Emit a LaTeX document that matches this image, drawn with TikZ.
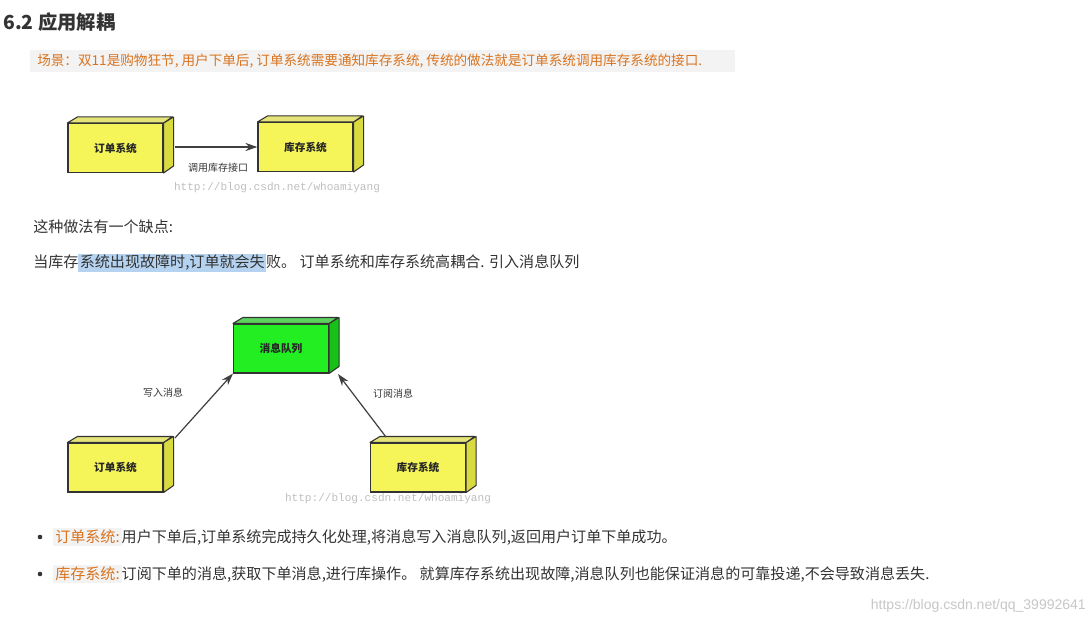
\documentclass[tikz,border=0pt]{standalone}
\usepackage{fontspec}
\setmainfont{Noto Sans CJK SC}
\newfontfamily\wmfont{Liberation Mono}
\newfontfamily\sansf{Liberation Sans}
\definecolor{boxy}{HTML}{F5F55A}
\definecolor{boxyd}{HTML}{D9D940}
\definecolor{boxg}{HTML}{22EE22}
\definecolor{boxgd}{HTML}{18C018}
\definecolor{orng}{HTML}{D9731F}
\definecolor{hlb}{HTML}{B5D3F0}
\definecolor{codebg}{HTML}{F3F3F3}
\definecolor{txt}{HTML}{333333}
\tikzset{
 x=0.75pt,y=-0.75pt,
 cube/.style={draw=black!80,line width=0.8pt,minimum width=95*0.75pt,minimum height=49*0.75pt,inner sep=0pt,font=\fontsize{8}{9}\selectfont\bfseries,text=black!85},
 face/.style={draw=black!80,line width=0.8pt,line join=round},
 conn/.style={draw=black!75,line width=0.9pt,-{Stealth[length=9pt,width=6pt]}},
 lbl/.style={font=\fontsize{7.5}{9}\selectfont,text=black!80},
 wm/.style={font=\wmfont\fontsize{8.3}{9}\selectfont,text=black!25},
 body/.style={anchor=west,inner sep=0pt,font=\fontsize{11.3}{13}\selectfont,text=txt},
}
\usetikzlibrary{arrows.meta}
\newcommand{\mycube}[5]{%
 \node[cube,fill=#4] (#1) at (#2,#3) {};
 \fill[#5,face] (#1.north east) -- ++(10,-6) -- ++(0,49) -- (#1.south east) -- cycle;
 \fill[#5!70!white,face] (#1.north west) -- ++(10,-6) -- ++(95,0) -- (#1.north east) -- cycle;
}
\begin{document}
\begin{tikzpicture}
\useasboundingbox (0,0) rectangle (1091,624);
\fill[white] (0,0) rectangle (1091,624);
\node[anchor=west,inner sep=0pt,font=\fontsize{14.5}{16}\selectfont\bfseries,text=txt] (title) at (3,22) {6.2 应用解耦};
\fill[codebg] (30,50) rectangle (735,72);
\node[anchor=west,inner sep=0pt,font=\fontsize{10.2}{11}\selectfont,text=orng] (scene) at (37,61) {场景：双11是购物狂节, 用户下单后, 订单系统需要通知库存系统, 传统的做法就是订单系统调用库存系统的接口.};
% top diagram
\mycube{a}{115.5}{148}{boxy}{boxyd}
\node[cube] at (a) {订单系统};
\mycube{b}{305.5}{147}{boxy}{boxyd}
\node[cube] at (b) {库存系统};
\coordinate (as) at (175,147);
\draw[conn] (as) -- (b.west);
\node[lbl] (l1) at (218,168) {调用库存接口};
\node[wm] (w1) at (277,188) {http://blog.csdn.net/whoamiyang};
\node[body] (t1) at (33,227) {这种做法有一个缺点:};
\node[body] (t2) at (33,263) {当库存{\setlength\fboxsep{1pt}\colorbox{hlb}{系统出现故障时,订单就会失}}败。 订单系统和库存系统高耦合. 引入消息队列};
% bottom diagram
\mycube{q}{281}{348.5}{boxg}{boxgd}
\node[cube] at (q) {消息队列};
\mycube{o}{115.5}{467.5}{boxy}{boxyd}
\node[cube] at (o) {订单系统};
\mycube{s}{418}{467.5}{boxy}{boxyd}
\node[cube] at (s) {库存系统};
\coordinate (os) at (175,438);
\coordinate (ss) at (386,437);
\coordinate (qe) at (338,374);
\draw[conn] (os) -- (q.south west);
\draw[conn] (ss) -- (qe);
\node[lbl] (l2) at (163,393) {写入消息};
\node[lbl] (l3) at (393,394) {订阅消息};
\node[wm] (w2) at (388,499) {http://blog.csdn.net/whoamiyang};
% bullets
\fill[txt] (40,537) circle (2.3);
\fill[txt] (40,574) circle (2.3);
\node[body] (b1) at (53,537) {{\setlength\fboxsep{1.5pt}\colorbox{codebg}{\textcolor{orng}{订单系统:}}}用户下单后,订单系统完成持久化处理,将消息写入消息队列,返回用户订单下单成功。};
\node[body] (b2) at (53,574) {{\setlength\fboxsep{1.5pt}\colorbox{codebg}{\textcolor{orng}{库存系统:}}}订阅下单的消息,获取下单消息,进行库操作。 就算库存系统出现故障,消息队列也能保证消息的可靠投递,不会导致消息丢失.};
\node[anchor=east,inner sep=0pt,font=\sansf\fontsize{10.5}{12}\selectfont,text=black!22] (w3) at (1086,606) {https://blog.csdn.net/qq\_39992641};
\end{tikzpicture}
\end{document}
